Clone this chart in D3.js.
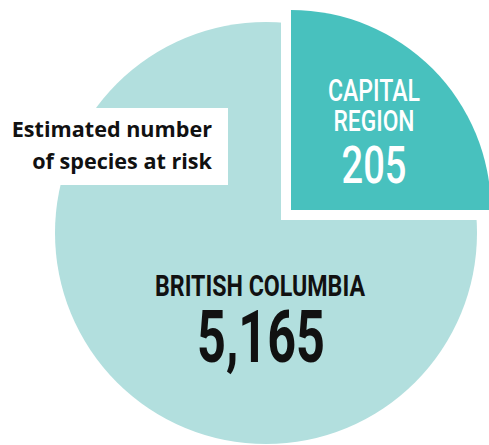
<!DOCTYPE html>
<html>
<head>
<meta charset="utf-8">
<script src="https://cdn.jsdelivr.net/npm/d3@7"></script>
<style>
  html, body { margin: 0; padding: 0; background: #fff; }
  svg { display: block; }
</style>
</head>
<body>
<svg id="chart" width="489" height="445"></svg>
<script>
// Species at risk: province total and the Capital Region share
const regions = ["BRITISH COLUMBIA", "CAPITAL REGION"];
const speciesAtRisk = [5165, 205];
const regionLines = [["BRITISH COLUMBIA"], ["CAPITAL", "REGION"]];
const captionLines = ["Estimated number", "of species at risk"];

const colors = { province: "#b2dfde", region: "#48c1be" };
const fmt = d3.format(",");

const svg = d3.select("#chart");

// Province disc
const provinceArc = d3.arc().innerRadius(0).outerRadius(211)
  .startAngle(0).endAngle(2 * Math.PI);
svg.append("path")
  .attr("transform", "translate(266,233)")
  .attr("d", provinceArc())
  .attr("fill", colors.province);

// Pulled-out wedge for the region, with a white gap around it
const regionArc = d3.arc().innerRadius(0).outerRadius(200)
  .startAngle(0).endAngle(Math.PI / 2);
svg.append("path")
  .attr("transform", "translate(291,210)")
  .attr("d", regionArc())
  .attr("fill", colors.region)
  .attr("stroke", "#fff")
  .attr("stroke-width", 20)
  .attr("stroke-linejoin", "miter")
  .style("paint-order", "stroke");

// Caption box
svg.append("rect")
  .attr("x", 0).attr("y", 108)
  .attr("width", 228).attr("height", 77)
  .attr("fill", "#fff");

svg.selectAll("text.caption")
  .data(captionLines)
  .join("text")
  .attr("class", "caption")
  .attr("x", 212)
  .attr("y", (d, i) => 137 + i * 32)
  .attr("text-anchor", "end")
  .attr("font-family", "'Open Sans', sans-serif")
  .attr("font-weight", 700)
  .attr("font-size", 21.6)
  .attr("fill", "#111")
  .text(d => d);

// Condensed label helper
function label(txt, x, y, size, width, fill, weight) {
  svg.append("text")
    .attr("x", x).attr("y", y)
    .attr("text-anchor", "middle")
    .attr("font-family", "Roboto, sans-serif")
    .attr("font-weight", weight)
    .attr("font-size", size)
    .attr("fill", fill)
    .attr("textLength", width)
    .attr("lengthAdjust", "spacingAndGlyphs")
    .text(txt);
}

// Region wedge labels
label(regionLines[1][0], 374, 101, 31, 92, "#fff", 500);
label(regionLines[1][1], 374, 131, 30, 81, "#fff", 500);
label(fmt(speciesAtRisk[1]), 374, 183, 51, 65, "#fff", 500);

// Province labels
label(regionLines[0][0], 260, 296, 30, 210, "#111", 700);
label(fmt(speciesAtRisk[0]), 261, 362, 72, 128, "#111", 700);
</script>
</body>
</html>
